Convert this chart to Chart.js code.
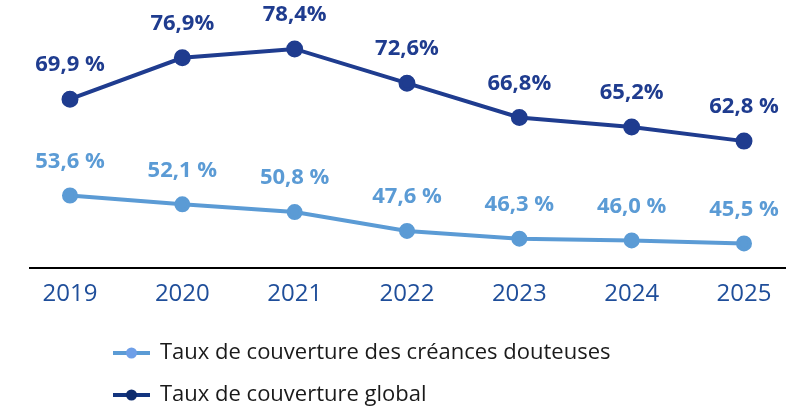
<!DOCTYPE html>
<html>
<head>
<meta charset="utf-8">
<script src="https://cdn.jsdelivr.net/npm/chart.js@4.4.1/dist/chart.umd.min.js"></script>
<style>
html,body{margin:0;padding:0;background:#fff;}
#wrap{width:805px;height:407px;position:relative;}
</style>
</head>
<body>
<div id="wrap"><canvas id="c" width="805" height="407"></canvas></div>
<script>
const years = ["2019","2020","2021","2022","2023","2024","2025"];
const creancesDouteuses = [53.6, 52.1, 50.8, 47.6, 46.3, 46.0, 45.5];
const global = [69.9, 76.9, 78.4, 72.6, 66.8, 65.2, 62.8];
const creancesLabels = ["53,6 %","52,1 %","50,8 %","47,6 %","46,3 %","46,0 %","45,5 %"];
const globalLabels = ["69,9 %","76,9%","78,4%","72,6%","66,8%","65,2%","62,8 %"];
const seriesNames = ["Taux de couverture des créances douteuses","Taux de couverture global"];

const LIGHT = "#5b9bd5";
const DARK = "#1f3c8f";
const FONT = "'Open Sans', 'DejaVu Sans', sans-serif";

const toPts = arr => arr.map((v,i)=>({x:i,y:v}));

const dataLabelPlugin = {
  id:'dataLabels',
  afterDatasetsDraw(chart){
    const ctx = chart.ctx;
    chart.data.datasets.forEach((ds,di)=>{
      const meta = chart.getDatasetMeta(di);
      ctx.save();
      ctx.font = "bold 22px " + FONT;
      ctx.fillStyle = ds.borderColor;
      ctx.textAlign = 'center';
      ctx.textBaseline = 'middle';
      meta.data.forEach((pt,i)=>{
        ctx.fillText(ds.valueLabels[i], pt.x, pt.y - 34);
      });
      ctx.restore();
    });
  }
};

const legendPlugin = {
  id:'customLegend',
  afterDraw(chart){
    const ctx = chart.ctx;
    const rows = [353, 395];
    chart.data.datasets.forEach((ds,di)=>{
      const y = rows[di];
      ctx.save();
      ctx.strokeStyle = ds.legendColor;
      ctx.lineWidth = 4;
      ctx.beginPath(); ctx.moveTo(113,y); ctx.lineTo(150,y); ctx.stroke();
      ctx.fillStyle = ds.legendDot;
      ctx.beginPath(); ctx.arc(131.5,y,5.5,0,Math.PI*2); ctx.fill();
      ctx.font = "22px " + FONT;
      ctx.fillStyle = "#1a1a1a";
      ctx.textAlign = 'left';
      ctx.textBaseline = 'middle';
      ctx.fillText(ds.label, 160, y);
      ctx.restore();
    });
  }
};

new Chart(document.getElementById('c'), {
  type:'line',
  data:{
    datasets:[
      {label:seriesNames[0], data:toPts(creancesDouteuses), valueLabels:creancesLabels,
       borderColor:LIGHT, backgroundColor:LIGHT, pointBackgroundColor:LIGHT, pointBorderColor:LIGHT,
       legendColor:LIGHT, legendDot:"#6e9fe8",
       borderWidth:4, pointRadius:6, tension:0},
      {label:seriesNames[1], data:toPts(global), valueLabels:globalLabels,
       borderColor:DARK, backgroundColor:DARK, pointBackgroundColor:DARK, pointBorderColor:DARK,
       legendColor:"#13357f", legendDot:"#0e2c6e",
       borderWidth:4, pointRadius:6.5, tension:0}
    ]
  },
  options:{
    responsive:false,
    animation:false,
    layout:{padding:{left:30,right:20,top:0,bottom:94}},
    plugins:{legend:{display:false},tooltip:{enabled:false}},
    scales:{
      x:{type:'linear', min:-0.356, max:6.365,
         grid:{display:false},
         border:{display:true,color:'#000',width:2},
         afterBuildTicks(scale){ scale.ticks = years.map((_,i)=>({value:i})); },
         ticks:{autoSkip:false, maxRotation:0, padding:4,
                color:"#1f4e9a", font:{family:FONT,size:24},
                callback:(v)=>years[v]}
      },
      y:{display:false, min:41.3, max:84.9}
    }
  },
  plugins:[dataLabelPlugin, legendPlugin]
});
</script>
</body>
</html>
